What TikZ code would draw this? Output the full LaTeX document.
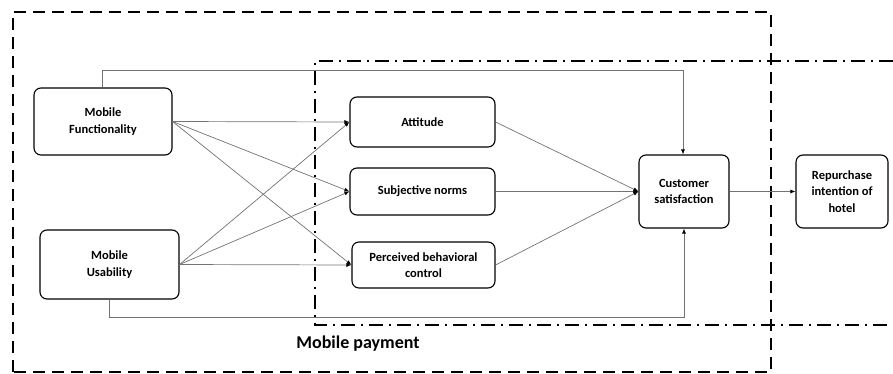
\documentclass[tikz,border=0pt]{standalone}
\usepackage{fontspec}
\setmainfont{Carlito}
\usetikzlibrary{arrows.meta}
\begin{document}
\begin{tikzpicture}[x=1pt,y=-1pt,
  box/.style={draw=black,line width=1.1pt,rounded corners=7pt,align=center,
    font=\fontsize{12.5}{16.5}\selectfont\bfseries,inner sep=0pt},
  conn/.style={draw=black!55,line width=0.7pt,-{Latex[length=5pt,width=4pt,black]}},
  outerdash/.style={line width=1.8pt,dash pattern=on 12pt off 7pt},
  dashdot/.style={line width=2pt,dash pattern=on 14pt off 6pt on 2pt off 6pt}]
\useasboundingbox (0,0) rectangle (893,374);
% frames
\draw[outerdash] (13,372) -- (13,12) -- (771,12) -- (771,372) -- cycle;
\draw[dashdot] (893,61) -- (315,61) -- (315,325) -- (893,325);
\node[font=\fontsize{18}{20}\selectfont\bfseries] (mp) at (358,344) {Mobile payment};
% nodes
\node[box,minimum width=138pt,minimum height=67pt] (mf) at (103,121.5) {Mobile\\Functionality};
\node[box,minimum width=139pt,minimum height=69pt] (mu) at (109.5,264.5) {Mobile\\Usability};
\node[box,minimum width=145pt,minimum height=50pt] (at) at (422.5,122) {Attitude};
\node[box,minimum width=145pt,minimum height=47pt] (sn) at (422.5,191.5) {Subjective norms};
\node[box,minimum width=143pt,minimum height=46pt] (pb) at (423.5,265) {Perceived behavioral\\control};
\node[box,minimum width=90pt,minimum height=73pt] (cs) at (684,191.5) {Customer\\satisfaction};
\node[box,minimum width=92pt,minimum height=73pt] (ri) at (842,191.5) {Repurchase\\intention of\\hotel};
% connectors
\coordinate (t1) at (102,70);
\coordinate (t2) at (683,70);
\coordinate (b1) at (109,317);
\coordinate (b2) at (684,317);
\draw[conn] (t1|-mf.north) -- (t1) -- (t2) -- (t2|-cs.north);
\draw[conn] (b1|-mu.south) -- (b1) -- (b2) -- (b2|-cs.south);
\foreach \s in {mf,mu}{
  \foreach \t in {at,sn,pb}{
    \draw[conn] (\s.east) -- (\t.west);
  }
}
\foreach \s in {at,sn,pb}{
  \draw[conn] (\s.east) -- (cs.west);
}
\draw[conn] (cs.east) -- (ri.west);
\end{tikzpicture}
\end{document}
